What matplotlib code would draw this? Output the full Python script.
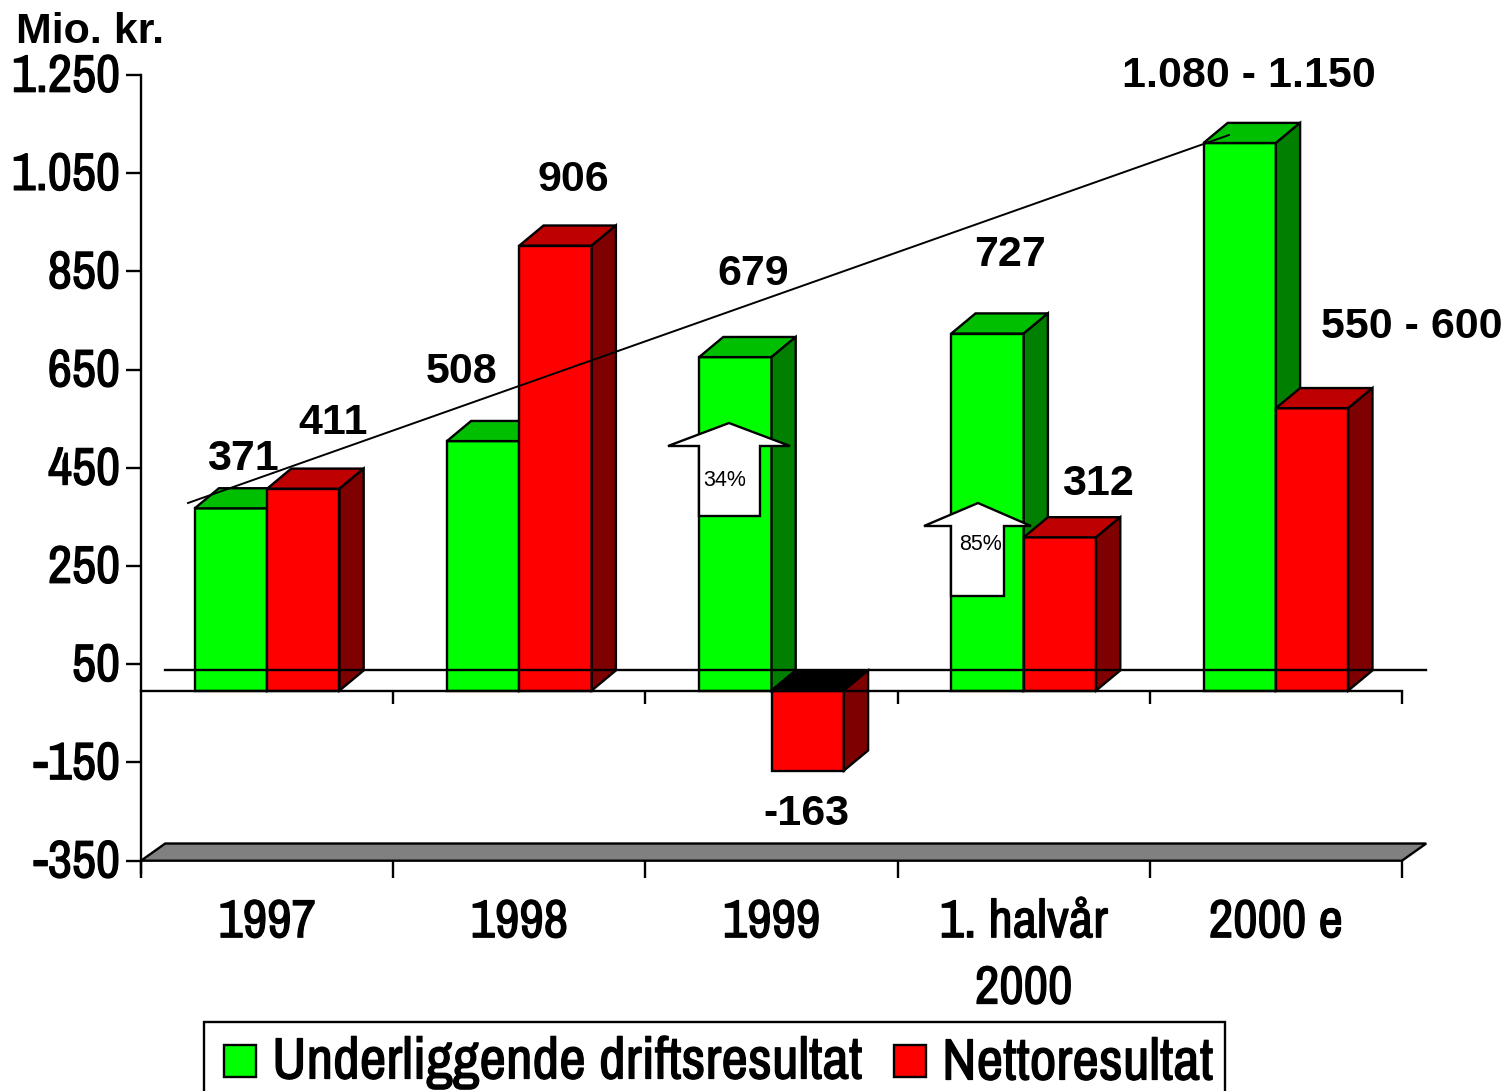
import matplotlib
matplotlib.use("Agg")
import matplotlib.pyplot as plt
import matplotlib.patheffects as pe
from matplotlib.patches import Polygon, Rectangle
from matplotlib.transforms import Affine2D, ScaledTranslation

W, H = 1505, 1091
NARROW = ["Archivo Narrow", "Liberation Sans"]
BOLD = "Liberation Sans"
LW = 1.7

categories = ["1997", "1998", "1999", "1. halvår\n2000", "2000 e"]
drift = [371, 508, 679, 727, 1115]
netto = [411, 906, -163, 312, 575]
drift_labels = ["371", "508", "679", "727", "1.080 - 1.150"]
netto_labels = ["411", "906", "-163", "312", "550 - 600"]
yticks = [-350, -150, 50, 250, 450, 650, 850, 1050, 1250]
ytick_labels = ["-350", "-150", "50", "250", "450", "650", "850", "1.050", "1.250"]

TICK_SHIFT = 3.5  # axis ticks in the picture sit a little above where the bars put them
BAR_W = 0.287
DX, DY = 0.096, 41

GREEN = ("#00ff00", "#00bf00", "#007f00")
RED = ("#ff0000", "#bf0000", "#7f0000")

# label anchors and annotations, in picture pixels
drift_pos = [(243, 459), (462, 372), (753, 274), (1010, 255), (1249, 76)]
netto_pos = [(333, 423), (573, 180), (806, 814), (1098, 484), (1412, 327)]
arrows = [(729, 423, 668, 790, 446, 699, 760, 516, "34%", 725, 480),
          (978, 503, 924, 1031, 526, 951, 1004, 596, "85%", 981, 544)]

fig = plt.figure(figsize=(W / 100, H / 100), dpi=100)
ax = fig.add_axes([141 / W, 1 - 860.7 / H, (1402 - 141) / W, (860.7 - 75) / H])
px = Affine2D().scale(1, -1).translate(0, H)
thick = [pe.withStroke(linewidth=0.9, foreground="k")]


def box3d(x, val, cols):
    # front face, then the top and the side faces
    ax.bar(x, val, BAR_W, align="edge", color=cols[0], edgecolor="k", lw=LW, clip_on=False)
    x1 = x + BAR_W
    top_col = "k" if val < 0 else cols[1]
    top_y = max(val, 0)
    ax.fill([x, x + DX, x1 + DX, x1], [top_y, top_y + DY, top_y + DY, top_y],
            facecolor=top_col, edgecolor="k", lw=LW, clip_on=False)
    ax.fill([x1, x1 + DX, x1 + DX, x1], [0, DY, val + DY, val],
            facecolor=cols[2], edgecolor="k", lw=LW, clip_on=False)


ax.set_xlim(0, 5)
y0, y1 = yticks[0] + TICK_SHIFT, yticks[-1] + TICK_SHIFT
ax.set_ylim(y0, y1)

# floor plate and back line of the zero plane
ax.fill([0, DX, 5 + DX, 5], [y0, y0 + 35, y0 + 35, y0],
        facecolor="#808080", edgecolor="k", lw=LW, clip_on=False)
ax.plot([DX, 5 + DX], [DY, DY], color="k", lw=LW, clip_on=False)
ax.plot([0, 5], [0, 0], color="k", lw=LW, clip_on=False)
ax.vlines(range(1, 6), -28, 0, color="k", lw=LW, clip_on=False)

for i in range(len(categories)):
    box3d(i + 0.5 - BAR_W, drift[i], GREEN)
    box3d(i + 0.5, netto[i], RED)

# trend line drawn over the bars
ax.plot([188, 1229], [503, 135], color="k", lw=1.4, transform=px, clip_on=False, zorder=5)

for tip_x, tip_y, hl, hr, hy, sl, sr, sb, txt, tx, ty in arrows:
    ax.add_patch(Polygon([(tip_x, tip_y), (hr, hy), (sr, hy), (sr, sb), (sl, sb), (sl, hy), (hl, hy)],
                         closed=True, facecolor="w", edgecolor="k", lw=LW, transform=px, clip_on=False, zorder=6))
    fig.text(tx, ty, txt, transform=px, fontsize=15.5, family=BOLD, ha="center", va="center", zorder=7)

for s in ("top", "right", "bottom"):
    ax.spines[s].set_visible(False)
ax.spines["left"].set_bounds(y0 - 25, y1)
ax.spines["left"].set_linewidth(LW)
ax.spines["left"].set_zorder(1)

ax.set_yticks([t + TICK_SHIFT for t in yticks], ytick_labels, fontsize=38, family=NARROW)
ax.tick_params(axis="y", length=11, width=LW, pad=4)
ax.set_xticks(range(6), [""] * 6)
ax.set_xticks([i + 0.5 for i in range(5)], categories, minor=True, fontsize=38.5, family=NARROW)
ax.tick_params(axis="x", which="major", length=12, width=LW)
ax.tick_params(axis="x", which="minor", length=0, pad=27)
for lab in ax.get_xticklabels(minor=True):
    lab.set_linespacing(1.47)
    lab.set_path_effects(thick)
up = ScaledTranslation(0, 2 / 72, fig.dpi_scale_trans)
for lab in ax.get_yticklabels():
    lab.set_path_effects(thick)
    lab.set_transform(lab.get_transform() + up)
ax.patch.set_visible(False)

for txt, (x, y) in zip(drift_labels + netto_labels, drift_pos + netto_pos):
    fig.text(x, y, txt, transform=px, fontsize=31, fontweight="bold", family=BOLD,
             ha="center", va="center", zorder=8)
fig.text(16, 32, "Mio. kr.", transform=px, fontsize=31, fontweight="bold", family=BOLD, ha="left", va="center")

# legend box runs off the bottom of the picture
fig.add_artist(Rectangle((204, 1022), 1021, 90, transform=px, facecolor="w", edgecolor="k", lw=LW))
fig.add_artist(Rectangle((224, 1045), 32, 32, transform=px, facecolor=GREEN[0], edgecolor="k", lw=LW))
fig.add_artist(Rectangle((894, 1045), 32, 32, transform=px, facecolor=RED[0], edgecolor="k", lw=LW))
for x, txt in ((272, "Underliggende driftsresultat"), (942, "Nettoresultat")):
    fig.text(x, 1063, txt, transform=px, fontsize=42, family=NARROW, ha="left", va="center", path_effects=thick)

fig.savefig("out.png", dpi=100)
